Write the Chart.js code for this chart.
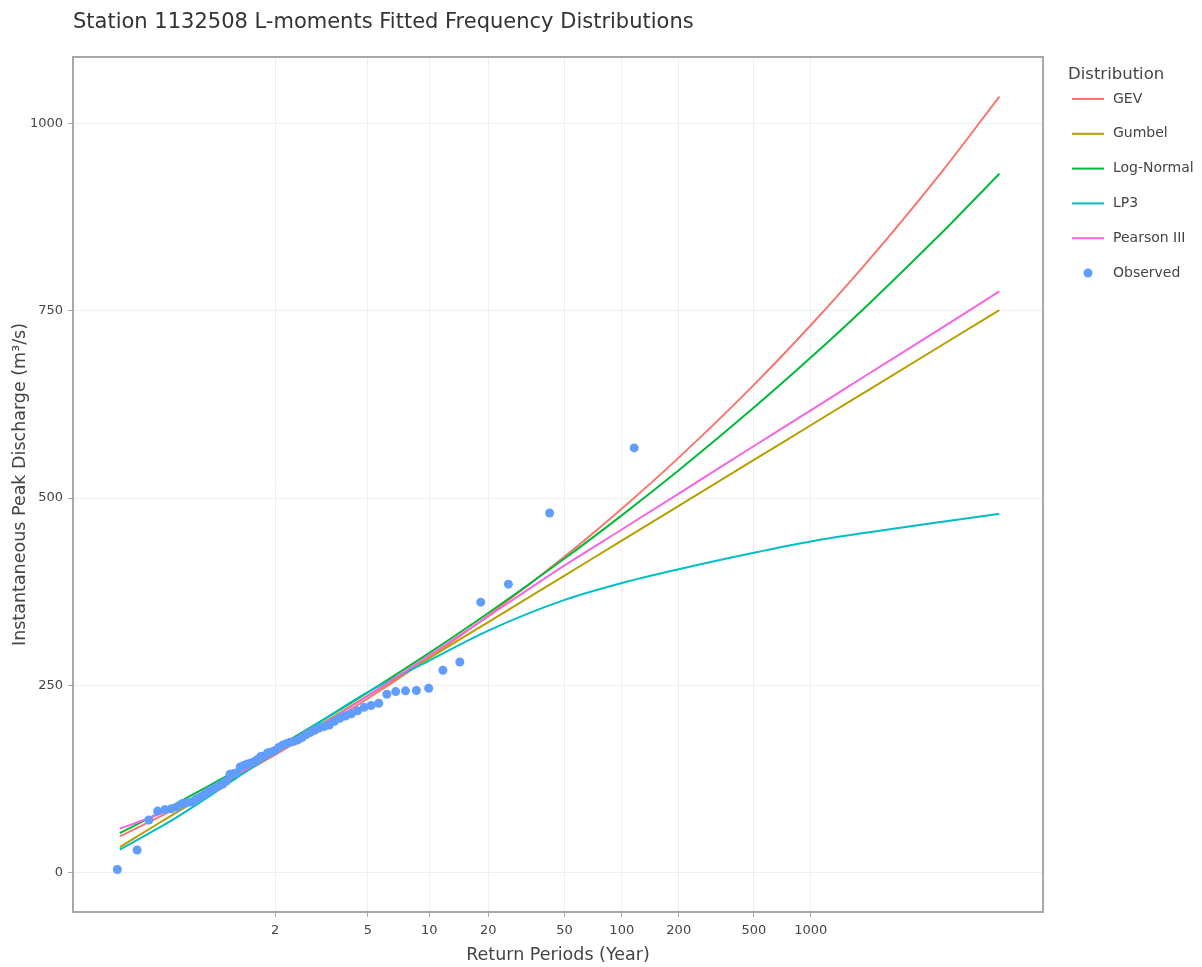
<!DOCTYPE html>
<html>
<head>
<meta charset="utf-8">
<script src="https://cdn.jsdelivr.net/npm/chart.js@4.4.1/dist/chart.umd.min.js"></script>
<style>
html,body{margin:0;padding:0;background:#fff;}
#wrap{width:1202px;height:967px;position:relative;}
</style>
</head>
<body>
<div id="wrap"><canvas id="c" width="1202" height="967"></canvas></div>
<script>
// ---- data ----
const chartTitle = 'Station 1132508 L-moments Fitted Frequency Distributions';
const curveReturnPeriods = [1.01,1.05,1.1,1.25,1.5,2,3,5,10,20,50,100,200,500,1000,2000,5000,10000];
const gevValues       = [48.3,70.5,83.7,106.3,128.8,157.1,191.6,232.3,286.9,343.1,421.9,485.8,554.0,651.2,730.7,815.7,937.0,1036.2];
const gumbelValues    = [33.9,61.7,77.6,104.2,129.7,160.5,196.3,236.1,286.3,334.3,396.5,443.1,489.6,550.9,597.2,643.5,704.7,751.0];
const lognormalValues = [52.4,76.0,89.9,113.5,136.8,165.6,200.3,240.5,293.3,346.5,419.3,476.9,537.0,620.8,687.6,757.6,855.2,933.1];
const lp3Values       = [30.5,56,71,99,127,160,200,241,283,323,364,386.5,405,427,442,454,468.5,479];
const pearson3Values  = [58.5,75,86,107,131,160,195,236,290,342,410,458,506,569.5,617,665,728,776];

const observedReturnPeriods = [1.0087,1.0245,1.0409,1.0578,1.0753,1.0934,1.1120,1.1313,1.1513,1.1721,1.1936,1.2158,1.2390,1.2630,1.2880,1.3140,1.3410,1.3692,1.3986,1.4293,1.4614,1.4949,1.5301,1.5669,1.6055,1.6461,1.6888,1.7338,1.7812,1.8313,1.8843,1.9404,2.0000,2.0634,2.1309,2.2030,2.2801,2.3628,2.4518,2.5477,2.6515,2.7640,2.8865,3.0204,3.1673,3.3292,3.5086,3.7084,3.9324,4.1851,4.4725,4.8024,5.1847,5.6332,6.1667,6.8117,7.6075,8.6138,9.9268,11.712,14.281,18.292,25.438,41.744,116.29];
const observedValues = [4,30,70,82,84,85,87,92,93,94,98,101,104,108,111,113,116,118,122,131,132,133,141,143,145,146,148,151,155,156,160,161,163,167,170,172,174,175,177,180,184,187,190,193,195,197,202,206,209,212,216,220.5,223,226,238,241.5,242.5,243,246,270,281,361,385,480,567];

const xTickValues = [2,5,10,20,50,100,200,500,1000];
const yTickValues = [0,250,500,750,1000];
const seriesNames = ['GEV','Gumbel','Log-Normal','LP3','Pearson III','Observed'];
const seriesColors = ['#F8766D','#B79F00','#00BA38','#00BFC4','#F564E3','#619CFF'];

// ---- Gumbel probability (reduced variate) axis ----
const reducedVariate = T => -Math.log(-Math.log(1 - 1 / T));
class GumbelScale extends Chart.LinearScale {
  static id = 'gumbel';
  static defaults = {};
  determineDataLimits() { this.min = this.options.min; this.max = this.options.max; }
  buildTicks() { return xTickValues.map(v => ({ value: v })); }
  configure() {
    super.configure();
    this._rmin = reducedVariate(this.min);
    this._rmax = reducedVariate(this.max);
  }
  getPixelForValue(v) {
    return this.getPixelForDecimal((reducedVariate(v) - this._rmin) / (this._rmax - this._rmin));
  }
  getValueForPixel(p) {
    const r = this._rmin + this.getDecimalForPixel(p) * (this._rmax - this._rmin);
    return 1 / (1 - Math.exp(-Math.exp(-r)));
  }
}
Chart.register(GumbelScale);

const toXY = (xs, ys) => xs.map((x, i) => ({ x: x, y: ys[i] }));
const curveSets = [gevValues, gumbelValues, lognormalValues, lp3Values, pearson3Values];

const datasets = curveSets.map((vals, i) => ({
  type: 'line',
  label: seriesNames[i],
  data: toXY(curveReturnPeriods, vals),
  borderColor: seriesColors[i],
  backgroundColor: seriesColors[i],
  borderWidth: 2,
  pointRadius: 0,
  cubicInterpolationMode: 'monotone',
  fill: false,
  order: 5 - i
}));
datasets.push({
  type: 'scatter',
  label: seriesNames[5],
  data: toXY(observedReturnPeriods, observedValues),
  backgroundColor: seriesColors[5],
  borderColor: seriesColors[5],
  borderWidth: 0,
  pointRadius: 4.5,
  showLine: false,
  order: 0
});

const FONT = '"DejaVu Sans", Verdana, sans-serif';

const decorPlugin = {
  id: 'decor',
  afterDraw(chart) {
    const { ctx, chartArea: a } = chart;
    ctx.save();
    // plot frame
    ctx.strokeStyle = '#a8a8a8';
    ctx.lineWidth = 2;
    ctx.strokeRect(a.left, a.top, a.right - a.left, a.bottom - a.top);
    // title
    ctx.fillStyle = '#333333';
    ctx.font = '21px ' + FONT;
    ctx.textBaseline = 'middle';
    ctx.textAlign = 'left';
    ctx.fillText(chartTitle, a.left, 23);
    // legend
    const lx = a.right + 25;
    ctx.fillStyle = '#444444';
    ctx.font = '16.5px ' + FONT;
    ctx.fillText('Distribution', lx, 75);
    ctx.font = '14px ' + FONT;
    chart.data.datasets.forEach((ds, i) => {
      const y = 99 + 34.8 * i;
      if (ds.type === 'scatter') {
        ctx.fillStyle = ds.backgroundColor;
        ctx.beginPath();
        ctx.arc(lx + 20, y, 4.5, 0, Math.PI * 2);
        ctx.fill();
      } else {
        ctx.strokeStyle = ds.borderColor;
        ctx.lineWidth = 2;
        ctx.beginPath();
        ctx.moveTo(lx + 4, y);
        ctx.lineTo(lx + 36, y);
        ctx.stroke();
      }
      ctx.fillStyle = '#444444';
      ctx.fillText(ds.label, lx + 45, y);
    });
    ctx.restore();
  }
};

new Chart(document.getElementById('c'), {
  data: { datasets: datasets },
  options: {
    responsive: false,
    animation: false,
    devicePixelRatio: 1,
    layout: { padding: { top: 57, right: 159, left: 0, bottom: 0 } },
    plugins: { legend: { display: false }, tooltip: { enabled: false }, title: { display: false } },
    scales: {
      x: {
        type: 'gumbel',
        position: 'bottom',
        min: 1.000284,
        max: 17040,
        afterFit: s => { s.height = 55; },
        grid: { color: '#efefef', lineWidth: 1, tickLength: 5, tickColor: '#a8a8a8', drawTicks: true },
        border: { display: false },
        ticks: {
          autoSkip: false, maxRotation: 0, minRotation: 0, padding: 6,
          color: '#444444', font: { family: FONT, size: 13 },
          callback: v => String(v)
        },
        title: {
          display: true, text: 'Return Periods (Year)', color: '#444444',
          font: { family: FONT, size: 17.5 }, padding: { top: 0, bottom: 1.5 }
        }
      },
      y: {
        type: 'linear',
        position: 'left',
        min: -52.8,
        max: 1089,
        afterFit: s => { s.width = 73; },
        afterBuildTicks: s => { s.ticks = yTickValues.map(v => ({ value: v })); },
        grid: { color: '#efefef', lineWidth: 1, tickLength: 5, tickColor: '#a8a8a8', drawTicks: true },
        border: { display: false },
        ticks: {
          padding: 5, color: '#444444', font: { family: FONT, size: 13 },
          callback: v => String(v)
        },
        title: {
          display: true, text: 'Instantaneous Peak Discharge (m³/s)', color: '#444444',
          font: { family: FONT, size: 17.5 }, padding: { top: 10, bottom: 0 }
        }
      }
    }
  },
  plugins: [decorPlugin]
});
</script>
</body>
</html>
